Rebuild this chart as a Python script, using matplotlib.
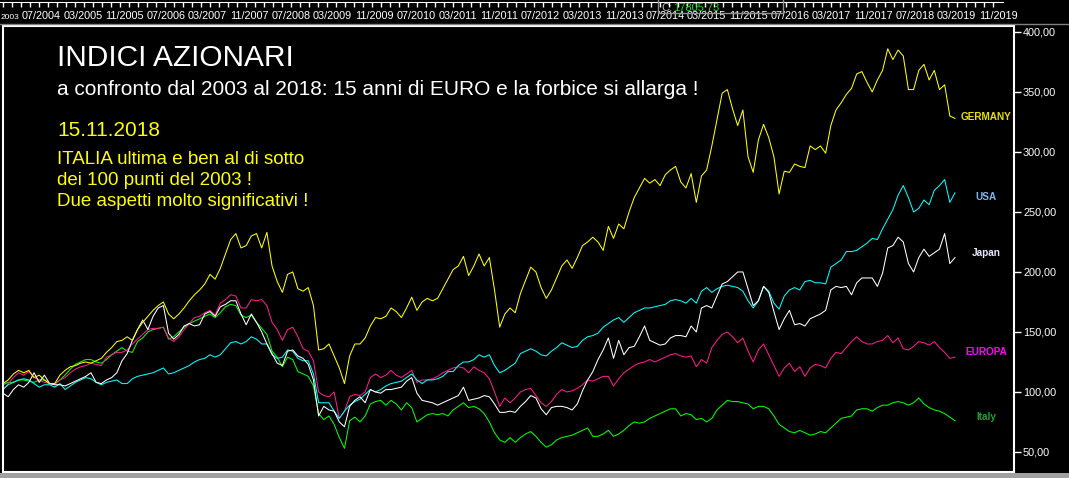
import numpy as np
import pandas as pd
import matplotlib
matplotlib.use('Agg')
import matplotlib.pyplot as plt
import matplotlib.dates as mdates
from matplotlib.lines import Line2D
from matplotlib.patches import Rectangle

plt.rcParams['font.family'] = ['Liberation Sans', 'DejaVu Sans']

# --- data (index levels, base ~100 in 2003), one value per ~month ---
dates = pd.date_range('2003-08-15', '2018-11-15', periods=185)

germany = [107, 110, 115, 118, 116, 118, 112, 114, 110, 107,
           107, 114, 118, 121, 122, 124, 125, 124, 126, 128,
           133, 137, 142, 143, 146, 143, 152, 158, 163, 168,
           172, 175, 165, 161, 165, 170, 176, 181, 185, 190,
           198, 194, 203, 215, 227, 232, 220, 222, 230, 232,
           220, 233, 205, 192, 183, 198, 200, 186, 184, 187,
           172, 135, 136, 140, 130, 120, 107, 130, 140, 140,
           145, 155, 162, 161, 163, 170, 167, 162, 170, 179,
           168, 175, 178, 176, 178, 186, 194, 202, 205, 213,
           197, 205, 215, 205, 212, 185, 154, 165, 170, 166,
           182, 193, 204, 200, 187, 178, 185, 195, 205, 210,
           203, 212, 222, 225, 229, 225, 218, 238, 228, 240,
           236, 250, 262, 270, 278, 274, 277, 272, 281, 285,
           288, 275, 270, 282, 258, 280, 285, 305, 327, 349,
           352, 336, 322, 335, 296, 283, 310, 323, 312, 296,
           265, 284, 283, 290, 288, 287, 305, 302, 305, 299,
           322, 335, 341, 348, 353, 365, 367, 358, 350, 360,
           368, 386, 377, 385, 380, 352, 352, 368, 373, 360,
           368, 352, 356, 330, 328]

usa = [102, 106, 108, 110, 111, 110, 107, 104, 106, 106,
       104, 107, 102, 105, 108, 110, 112, 111, 108, 106,
       108, 109, 110, 107, 107, 111, 113, 114, 115, 116,
       118, 120, 115, 116, 118, 120, 122, 125, 127, 128,
       131, 129, 131, 136, 141, 142, 140, 142, 146, 144,
       140, 140, 131, 128, 129, 135, 134, 128, 126, 126,
       115, 91, 91, 91, 84, 78, 84, 89, 92, 94,
       98, 102, 100, 102, 105, 107, 108, 109, 112, 115,
       110, 107, 110, 110, 111, 113, 117, 117, 122, 125,
       125, 127, 131, 129, 131, 122, 116, 118, 121, 124,
       132, 134, 136, 134, 131, 130, 134, 137, 141, 139,
       137, 138, 143, 146, 147, 149, 154, 157, 160, 162,
       158, 162, 166, 168, 170, 170, 171, 172, 173, 176,
       177, 176, 174, 178, 174, 184, 187, 183, 186, 188,
       189, 188, 187, 184, 176, 170, 176, 188, 184, 174,
       169, 180, 185, 187, 185, 192, 193, 191, 191, 190,
       204, 207, 210, 217, 217, 218, 221, 224, 228, 227,
       236, 244, 252, 264, 272, 262, 250, 253, 260, 256,
       268, 272, 277, 258, 266]

japan = [99, 96, 102, 106, 104, 108, 116, 108, 114, 107,
         106, 106, 105, 107, 109, 111, 113, 116, 108, 107,
         110, 112, 116, 126, 132, 143, 152, 160, 152, 163,
         170, 172, 149, 144, 148, 155, 157, 155, 156, 165,
         167, 163, 171, 173, 176, 176, 165, 156, 165, 158,
         150, 140, 132, 124, 122, 134, 135, 130, 128, 123,
         110, 80, 88, 85, 84, 75, 71, 88, 93, 96,
         91, 102, 100, 99, 102, 102, 103, 104, 109, 112,
         99, 93, 92, 91, 89, 91, 93, 95, 97, 104,
         93, 94, 95, 97, 96, 90, 83, 83, 84, 83,
         88, 92, 97, 95, 86, 81, 87, 88, 88, 87,
         85, 90, 101, 110, 117, 127, 135, 145, 128, 143,
         131, 137, 138, 146, 155, 143, 141, 139, 140, 145,
         147, 147, 146, 155, 150, 170, 172, 170, 180, 190,
         192, 196, 200, 200, 186, 172, 176, 188, 183, 167,
         152, 161, 168, 156, 157, 155, 161, 163, 165, 168,
         185, 188, 187, 188, 181, 191, 195, 195, 195, 188,
         199, 220, 222, 229, 225, 207, 200, 212, 219, 213,
         216, 219, 232, 207, 212]

europa = [102, 107, 112, 116, 114, 117, 112, 110, 108, 107,
          106, 110, 112, 116, 119, 121, 122, 124, 123, 122,
          129, 131, 133, 133, 135, 140, 144, 148, 152, 153,
          153, 154, 145, 142, 146, 152, 157, 162, 163, 166,
          168, 164, 174, 177, 181, 180, 170, 170, 177, 176,
          177, 172, 158, 152, 143, 152, 154, 146, 136, 134,
          126, 100, 97, 96, 100, 78, 84, 96, 98, 97,
          100, 112, 115, 112, 114, 118, 114, 112, 115, 118,
          108, 110, 110, 111, 113, 116, 118, 120, 121, 120,
          116, 121, 118, 116, 111, 100, 88, 95, 91, 95,
          100, 102, 103, 97, 91, 88, 92, 98, 102, 100,
          101, 103, 106, 110, 109, 111, 113, 113, 105, 111,
          116, 119, 122, 124, 125, 127, 125, 127, 129, 131,
          132, 130, 129, 130, 121, 127, 124, 137, 143, 148,
          150, 146, 141, 145, 134, 125, 135, 140, 131, 122,
          113, 120, 124, 117, 121, 113, 120, 123, 122, 120,
          128, 133, 132, 137, 142, 146, 142, 140, 140, 142,
          143, 147, 141, 145, 136, 135, 138, 142, 141, 139,
          142, 137, 133, 128, 129]

italy = [106, 108, 108, 110, 110, 109, 108, 110, 110, 107,
         107, 110, 114, 119, 123, 125, 127, 127, 125, 124,
         127, 131, 134, 137, 134, 133, 142, 145, 150, 152,
         153, 154, 144, 146, 150, 154, 157, 159, 161, 163,
         165, 162, 166, 171, 173, 172, 164, 162, 164, 158,
         153, 148, 134, 129, 121, 129, 127, 117, 115, 113,
         105, 82, 77, 80, 73, 62, 53, 76, 79, 75,
         80, 90, 92, 93, 89, 93, 90, 85, 91, 87,
         75, 78, 81, 82, 81, 82, 80, 85, 88, 91,
         87, 88, 86, 82, 75, 66, 60, 58, 62, 58,
         62, 65, 67, 63, 58, 54, 56, 60, 62, 63,
         64, 66, 68, 70, 63, 63, 65, 68, 63, 65,
         68, 72, 75, 74, 75, 78, 80, 82, 84, 86,
         86, 80, 82, 81, 77, 78, 75, 78, 85, 89,
         93, 92, 92, 91, 90, 86, 88, 88, 86, 80,
         73, 70, 67, 66, 68, 66, 64, 65, 67, 66,
         70, 74, 78, 79, 80, 85, 86, 86, 84, 87,
         89, 89, 91, 92, 91, 89, 91, 95, 90, 87,
         85, 84, 82, 79, 76]

y_ticks = [50, 100, 150, 200, 250, 300, 350, 400]
# first label is only partly visible in the original ("2003")
top_labels = ['2003', '07/2004', '03/2005', '11/2005', '07/2006', '03/2007',
              '11/2007', '07/2008', '03/2009', '11/2009', '07/2010', '03/2011',
              '11/2011', '07/2012', '03/2013', '11/2013', '07/2014', '03/2015',
              '11/2015', '07/2016', '03/2017', '11/2017', '07/2018', '03/2019',
              '11/2019']
label_months = pd.date_range('2003-11-01', '2019-11-01', freq='8MS')

# --- layout helpers (pixel -> figure fraction) ---
W, H = 1069, 478
def fx(px): return px / W
def fy(py): return 1 - py / H

fig = plt.figure(figsize=(W / 100, H / 100), dpi=100, facecolor='black')

dn = mdates.date2num(dates)
ppd = 952 / (dn[-1] - dn[0])   # pixels per day

ax = fig.add_axes([fx(3), fy(472), fx(1014) - fx(3), fy(25.5) - fy(472)])
ax.set_facecolor('black')
ax.set_xlim(dn[0], dn[0] + 1011 / ppd)
ax.set_ylim(33.3, 405.4)

series = [
    ('Italy', italy, '#00ff00', '#1fa030', 4),
    ('EUROPA', europa, '#ff1a8c', '#ff00ff', 5),
    ('USA', usa, '#00ffff', '#80b8f0', -4),
    ('Japan', japan, '#ffffff', '#e8e8ff', 5),
    ('GERMANY', germany, '#ffff00', '#e8e000', 1),
]
for name, vals, col, lcol, dy in series:
    ax.plot(dn, vals, color=col, lw=0.75)
    ax.annotate(name, xy=(dn[-1], vals[-1]), xytext=(31, dy),
                textcoords='offset pixels', ha='center', va='center',
                color=lcol, fontsize=7.2, fontweight='bold')

for s in ax.spines.values():
    s.set_color('white')
    s.set_linewidth(1.5)
ax.tick_params(axis='x', bottom=False, labelbottom=False)
ax.yaxis.tick_right()
ax.set_yticks(y_ticks)
ax.set_yticklabels([f'{v:.2f}'.replace('.', ',') for v in y_ticks])
ax.tick_params(axis='y', colors='white', labelsize=7.8, length=5, width=1, pad=1.5)

# --- top time strip ---
axt = fig.add_axes([0, fy(23), fx(1003), fy(1.5) - fy(23)])
axt.set_facecolor('black')
axt.set_xlim(dn[0] - 3 / ppd, dn[0] + 1000 / ppd)
axt.set_ylim(0, 1)
for k, s in axt.spines.items():
    s.set_visible(k == 'top')
axt.spines['top'].set_color('white')
axt.set_yticks([])
axt.set_xticks(np.arange(dn[0] - 0.3 / ppd, dn[0] + 998 / ppd, 9 / ppd))
axt.tick_params(axis='x', top=True, bottom=False, direction='in', length=3.6,
                width=1, color='white', labeltop=False, labelbottom=False)
for i, (d, lbl) in enumerate(zip(mdates.date2num(label_months), top_labels)):
    if i == 0:
        # label squeezed against the left edge
        axt.text(0.0005, 0.17, lbl, transform=axt.transAxes, ha='left',
                 va='baseline', color='white', fontsize=6.0)
        continue
    axt.text(d + 3 / ppd, 0.17, lbl, transform=axt.get_xaxis_transform(),
             ha='right', va='baseline', color='white', fontsize=7.8, clip_on=False)

fig.add_artist(Line2D([0, 1], [fy(23.5)] * 2, color='#808080', lw=1,
                      transform=fig.transFigure))
fig.add_artist(Rectangle((fx(658), fy(13)), fx(783) - fx(658), fy(-1) - fy(13),
                         transform=fig.transFigure, fill=False,
                         edgecolor='#909090', lw=1))
fig.text(fx(661), fy(11), 'C:', color='#c0c0c0', fontsize=8, va='baseline')
fig.text(fx(673), fy(11), '17805,73', color='#22dd22', fontsize=8, va='baseline')

# bottom scroll strip
fig.add_artist(Rectangle((0, 0), 1, 5.5 / H, transform=fig.transFigure,
                         facecolor='#a0a0a0', edgecolor='none'))

# --- annotations ---
fig.text(fx(57), fy(66), 'INDICI AZIONARI', color='white', fontsize=21.5, va='baseline')
fig.text(fx(57), fy(95), 'a confronto dal 2003 al 2018: 15 anni di EURO e la forbice si allarga !',
         color='white', fontsize=15, va='baseline')
fig.text(fx(57), fy(136), '15.11.2018', color='#ffff00', fontsize=15, va='baseline')
for txt, by in [('ITALIA ultima e ben al di sotto', 164),
                ('dei 100 punti del 2003 !', 185),
                ('Due aspetti molto significativi !', 206)]:
    fig.text(fx(57), fy(by), txt, color='#ffff00', fontsize=13.5, va='baseline')

fig.savefig('out.png', dpi=100, facecolor='black')
